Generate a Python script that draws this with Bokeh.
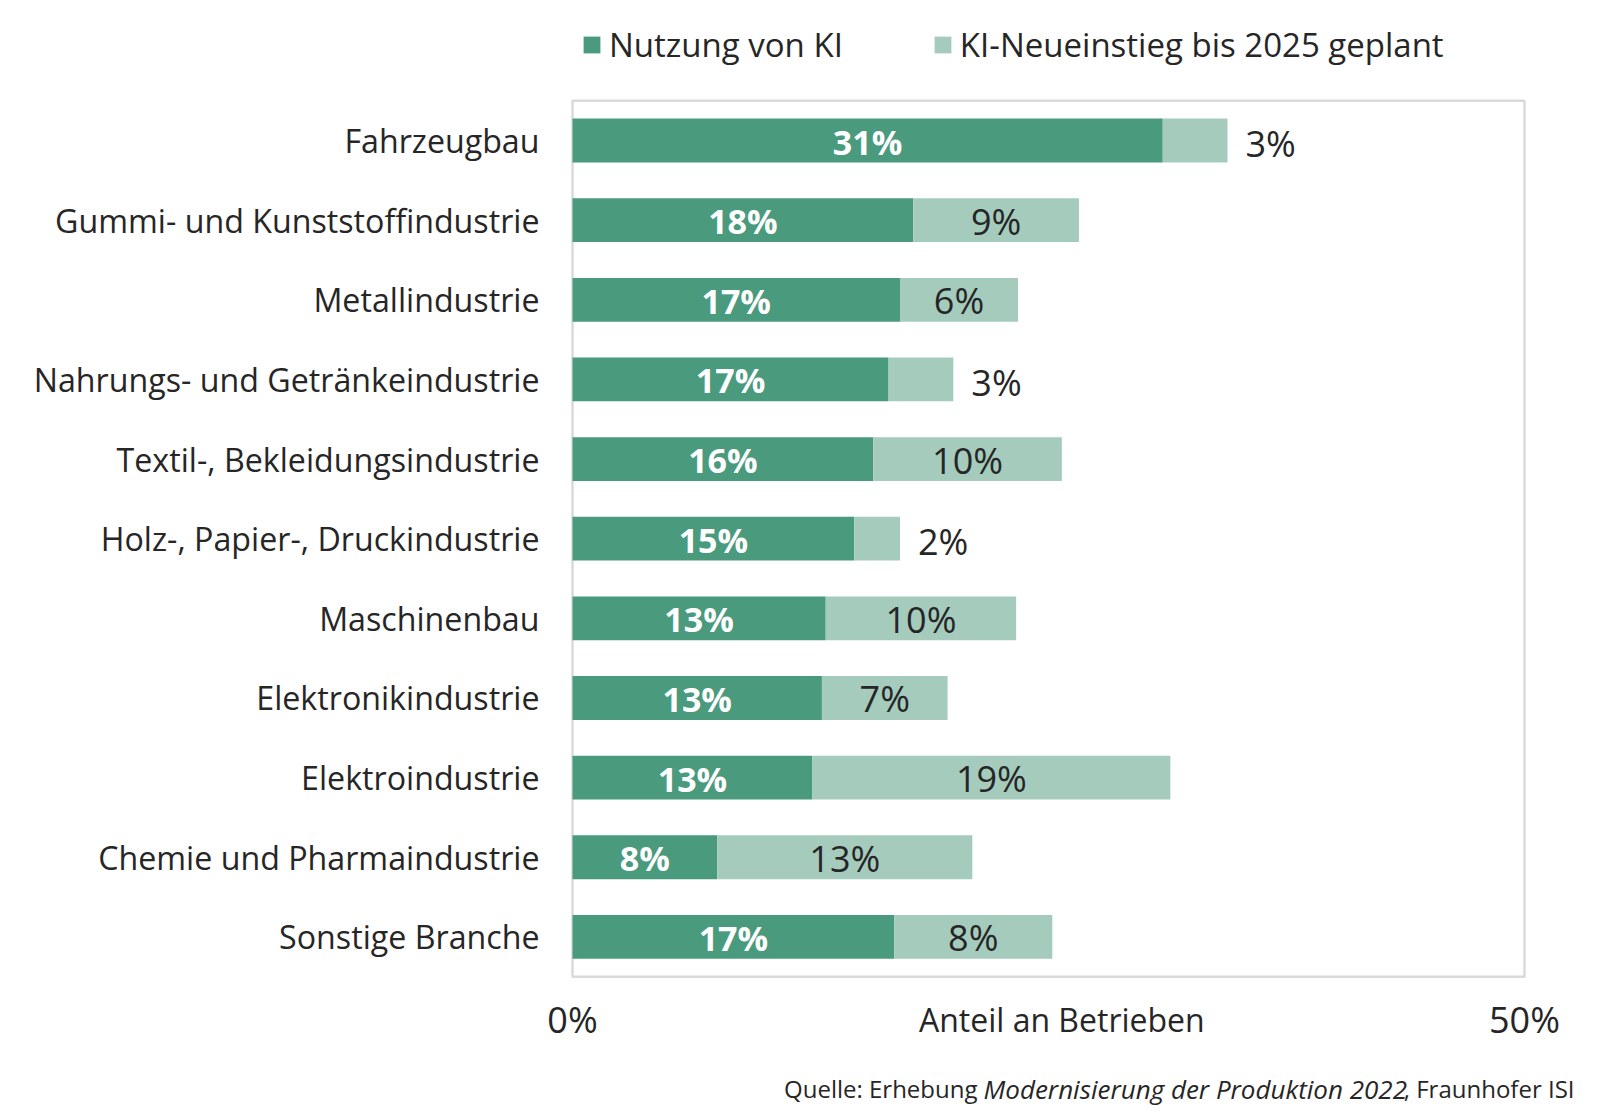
from bokeh.plotting import figure
from bokeh.models import (ColumnDataSource, Range1d, FixedTicker, LinearAxis,
                          Label, Legend, LegendItem)
from bokeh.core.properties import value
from bokeh.embed import file_html
from bokeh.resources import INLINE

categories = ["Fahrzeugbau", "Gummi- und Kunststoffindustrie", "Metallindustrie",
              "Nahrungs- und Getränkeindustrie", "Textil-, Bekleidungsindustrie",
              "Holz-, Papier-, Druckindustrie", "Maschinenbau", "Elektronikindustrie",
              "Elektroindustrie", "Chemie und Pharmaindustrie", "Sonstige Branche"]
nutzung = [31.0, 17.9, 17.2, 16.6, 15.8, 14.8, 13.3, 13.1, 12.6, 7.6, 16.9]
geplant = [3.4, 8.7, 6.2, 3.4, 9.9, 2.4, 10.0, 6.6, 18.8, 13.4, 8.3]
series_names = ["Nutzung von KI", "KI-Neueinstieg bis 2025 geplant"]
x_ticks = [0, 50]
x_tick_labels = ["0%", "50%"]
x_title = "Anteil an Betrieben"
source_parts = ["Quelle: Erhebung", "Modernisierung der Produktion 2022", ", Fraunhofer ISI"]

DARK = "#4a9a7e"
LIGHT = "#a5cbbd"
FRAME = "#dadada"
TEXT = "#262626"
FONT = "Open Sans"

# ---- layout constants (pixels) ----
W, H = 1584, 1112
FRAME_LEFT = 540          # left edge of drawing area (axis labels to its left)
X0_PX, X1_PX = 572, 1524  # pixel positions of x_ticks[0] and x_ticks[-1]
ROW0_PX, ROW_STEP = 140, 79.64  # centre of first category row, row pitch

px_per_unit = (X1_PX - X0_PX) / (x_ticks[-1] - x_ticks[0])
x_start = x_ticks[0] - (X0_PX - FRAME_LEFT) / px_per_unit
x_end = x_ticks[0] + (W - X0_PX) / px_per_unit
y_top = -ROW0_PX / ROW_STEP
y_bottom = (H - ROW0_PX) / ROW_STEP

p = figure(width=W, height=H, output_backend="svg", toolbar_location=None,
           x_range=Range1d(x_start, x_end), y_range=Range1d(y_bottom, y_top),
           x_axis_type=None, y_axis_type=None,
           min_border_left=FRAME_LEFT, min_border_right=0, min_border_top=0,
           min_border_bottom=0)
p.outline_line_color = None
p.grid.visible = False
p.background_fill_color = "white"
p.border_fill_color = "white"

idx = list(range(len(categories)))

# plot-area box
p.quad(left=[x_ticks[0]], right=[x_ticks[-1]], top=[-0.5], bottom=[len(categories) - 0.5],
       fill_color=None, line_color=FRAME, line_width=2.5)

src = ColumnDataSource(dict(idx=idx, cat=categories, nutzung=nutzung, geplant=geplant))
rs = p.hbar_stack(["nutzung", "geplant"], y="idx", height=0.55, color=[DARK, LIGHT],
                  source=src, line_color=None)

# value labels
dark_x = [v / 2 for v in nutzung]
dark_t = [f"{round(v)}%" for v in nutzung]
in_x, in_y, in_t, out_x, out_y, out_t = [], [], [], [], [], []
for i, a, b in zip(idx, nutzung, geplant):
    if b < 4:
        out_x.append(a + b); out_y.append(i); out_t.append(f"{round(b)}%")
    else:
        in_x.append(a + b / 2); in_y.append(i); in_t.append(f"{round(b)}%")

p.text(x=dark_x, y=idx, text=dark_t, text_color="white", text_font=value(FONT),
       text_font_style="bold", text_font_size="34px", text_align="center",
       text_baseline="middle", y_offset=1)
p.text(x=in_x, y=in_y, text=in_t, text_color=TEXT, text_font=value(FONT),
       text_font_size="36px", text_align="center", text_baseline="middle", y_offset=1)
p.text(x=out_x, y=out_y, text=out_t, text_color=TEXT, text_font=value(FONT),
       text_font_size="36px", text_align="left", text_baseline="middle", x_offset=18, y_offset=3)

# category axis (left)
yax = LinearAxis(ticker=FixedTicker(ticks=idx),
                 major_label_overrides={i: c for i, c in zip(idx, categories)})
yax.axis_line_color = None
yax.major_tick_line_color = None
yax.minor_tick_line_color = None
yax.major_tick_out = 0
yax.major_tick_in = 0
yax.major_label_standoff = 1
yax.major_label_text_font = FONT
yax.major_label_text_font_size = "32.2px"
yax.major_label_text_color = TEXT
p.add_layout(yax, "left")

# x tick labels and title (below the box)
TICK_Y = H - 1019
for xt, lab in zip(x_ticks, x_tick_labels):
    p.add_layout(Label(x=xt, y=TICK_Y, y_units="screen", text=lab, text_font=FONT,
                       text_font_size="36px", text_color=TEXT, text_align="center",
                       text_baseline="middle"))
p.add_layout(Label(x=25.7, y=TICK_Y, y_units="screen", text=x_title, text_font=FONT,
                   text_font_size="32px", text_color=TEXT, text_align="center",
                   text_baseline="middle"))

# legend
legend = Legend(items=[LegendItem(label=series_names[0], renderers=[rs[0]]),
                       LegendItem(label=series_names[1], renderers=[rs[1]])],
                orientation="horizontal", location=(581 - FRAME_LEFT, H - 67),
                glyph_width=21, glyph_height=21,
                label_standoff=7, spacing=89, padding=0, margin=0,
                border_line_color=None, background_fill_alpha=0,
                label_text_font=FONT, label_text_font_size="33px", label_text_color=TEXT,
                label_text_baseline="middle")
p.add_layout(legend)

# source line
SY = H - 1088
p.add_layout(Label(x=977 - FRAME_LEFT, y=SY, x_units="screen", y_units="screen",
                   text=source_parts[0], text_font=FONT, text_font_size="24px", text_color=TEXT,
                   text_align="right", text_baseline="middle"))
p.add_layout(Label(x=983 - FRAME_LEFT, y=SY, x_units="screen", y_units="screen",
                   text=source_parts[1], text_font=FONT, text_font_size="26px",
                   text_font_style="italic", text_color=TEXT,
                   text_align="left", text_baseline="middle"))
p.add_layout(Label(x=1574 - FRAME_LEFT, y=SY, x_units="screen", y_units="screen",
                   text=source_parts[2], text_font=FONT, text_font_size="24px", text_color=TEXT,
                   text_align="right", text_baseline="middle"))

open("out.html", "w").write(file_html(p, INLINE))
